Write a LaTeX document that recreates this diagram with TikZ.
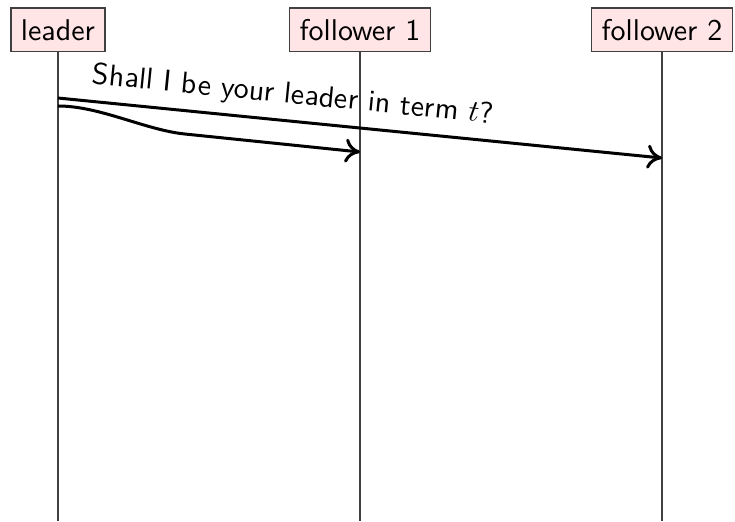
\documentclass[tikz,border=0pt]{standalone}
\usepackage{tikz}
\usetikzlibrary{arrows.meta,positioning}

\begin{document}
\begin{tikzpicture}[
    actor/.style={draw=black!75, fill=red!10, font=\sffamily,
                  minimum height=14.6pt},
    life/.style={black!75},
    msg/.style={-{To[length=5pt,width=8pt]}, line width=1pt},
  ]
  \useasboundingbox (-19.33pt,10pt) rectangle (225.67pt,-163.67pt);

  % participants
  \node[actor] (leader) at (0,0) {leader};
  \node[actor] (fol1) at (100.67pt,0) {follower 1};
  \node[actor] (fol2) at (201.33pt,0) {follower 2};

  % lifelines
  \coordinate (leader-end) at (0,-163.67pt);
  \coordinate (fol1-end) at (100.67pt,-163.67pt);
  \coordinate (fol2-end) at (201.33pt,-163.67pt);
  \draw[life] (leader) -- (leader-end);
  \draw[life] (fol1) -- (fol1-end);
  \draw[life] (fol2) -- (fol2-end);

  % messages
  \coordinate (req2-s) at (0,-22.67pt);
  \coordinate (req2-e) at (201.33pt,-42.67pt);
  \coordinate (req1-s) at (0,-25.33pt);
  \coordinate (req1-e) at (100.67pt,-40.67pt);
  \draw[msg] (req2-s) -- node[above, sloped, pos=0.385, font=\sffamily]
    {Shall I be your leader in term $t$?} (req2-e);
  \draw[msg] (req1-s) .. controls (14pt,-25.33pt) and (29pt,-33.3pt)
    .. (42.3pt,-34.67pt) -- (req1-e);
\end{tikzpicture}
\end{document}
